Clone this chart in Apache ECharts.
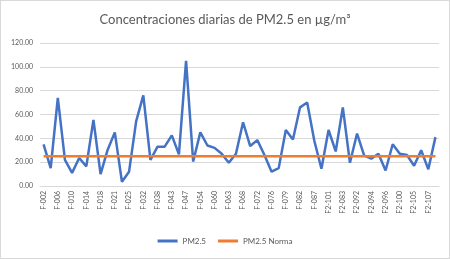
<!DOCTYPE html>
<html><head><meta charset="utf-8">
<script src="https://cdn.jsdelivr.net/npm/echarts@6/dist/echarts.min.js"></script>
<style>html,body{margin:0;padding:0;background:#fff}#c{width:450px;height:259px;box-sizing:border-box;border:1px solid #d9d9d9}</style>
</head><body><div id="c"></div>
<script>
var categories = ["F-002","F-004","F-006","F-008","F-010","F-012","F-014","F-016","F-018","F-020","F-021","F-023","F-025","F-028","F-032","F-035","F-038","F-041","F-043","F-045","F-047","F-050","F-054","F-057","F-060","F-061","F-063","F-066","F-068","F-070","F-072","F-074","F-076","F-078","F-079","F-080","F-082","F-084","F-087","F-090","F2-101","F2-102","F2-083","F2-085","F2-092","F2-093","F2-094","F2-095","F2-096","F2-098","F2-100","F2-103","F2-105","F2-106","F2-107","F2-108"];
var pm25 = [35,15,74,22,11,23.5,16.5,55.5,10,30.5,45,3.5,12,54.5,76,22,33,33,42.5,26.5,105,20.5,45,34,32,27,19.5,27,53.5,33.5,38.5,26,12,15,47,39,66,70,38,14.5,47,29,66,19.5,44,25.5,23,27,13,35,27,26,17,30,14,41];
var normValue = 25;
var norma = pm25.map(function(){return normValue;});
var yTicks = [0,20,40,60,80,100,120];

var chart = echarts.init(document.getElementById('c'), null, {renderer:'canvas'});
chart.setOption({
  animation:false,
  title:{text:'Concentraciones diarias de PM2.5 en µg/m³',left:'center',top:7,
    textStyle:{fontFamily:'Lato',fontSize:13,fontWeight:'normal',color:'#595959'}},
  grid:{left:39,right:10,top:42,bottom:72},
  legend:{bottom:8,left:'center',itemWidth:20,itemHeight:3,itemGap:12,icon:'rect',
    textStyle:{fontFamily:'Lato',fontSize:8,color:'#595959'},
    data:['PM2.5','PM2.5 Norma']},
  xAxis:{type:'category',data:categories,boundaryGap:true,
    axisLine:{lineStyle:{color:'#d9d9d9'}},axisTick:{show:false},
    axisLabel:{rotate:90,interval:1,fontFamily:'Lato',fontSize:7,color:'#595959',margin:5}},
  yAxis:{type:'value',min:yTicks[0],max:yTicks[yTicks.length-1],interval:20,
    axisLine:{show:false},axisTick:{show:false},
    splitLine:{lineStyle:{color:'#d9d9d9'}},
    axisLabel:{fontFamily:'Lato',fontSize:7,color:'#595959',margin:7,
      formatter:function(v){return v.toFixed(2);}}},
  series:[
    {name:'PM2.5',type:'line',data:pm25,symbol:'none',
      lineStyle:{color:'#4472C4',width:2.5},itemStyle:{color:'#4472C4'}},
    {name:'PM2.5 Norma',type:'line',data:norma,symbol:'none',
      lineStyle:{color:'#ED7D31',width:2.5},itemStyle:{color:'#ED7D31'}}
  ]
});
</script></body></html>
